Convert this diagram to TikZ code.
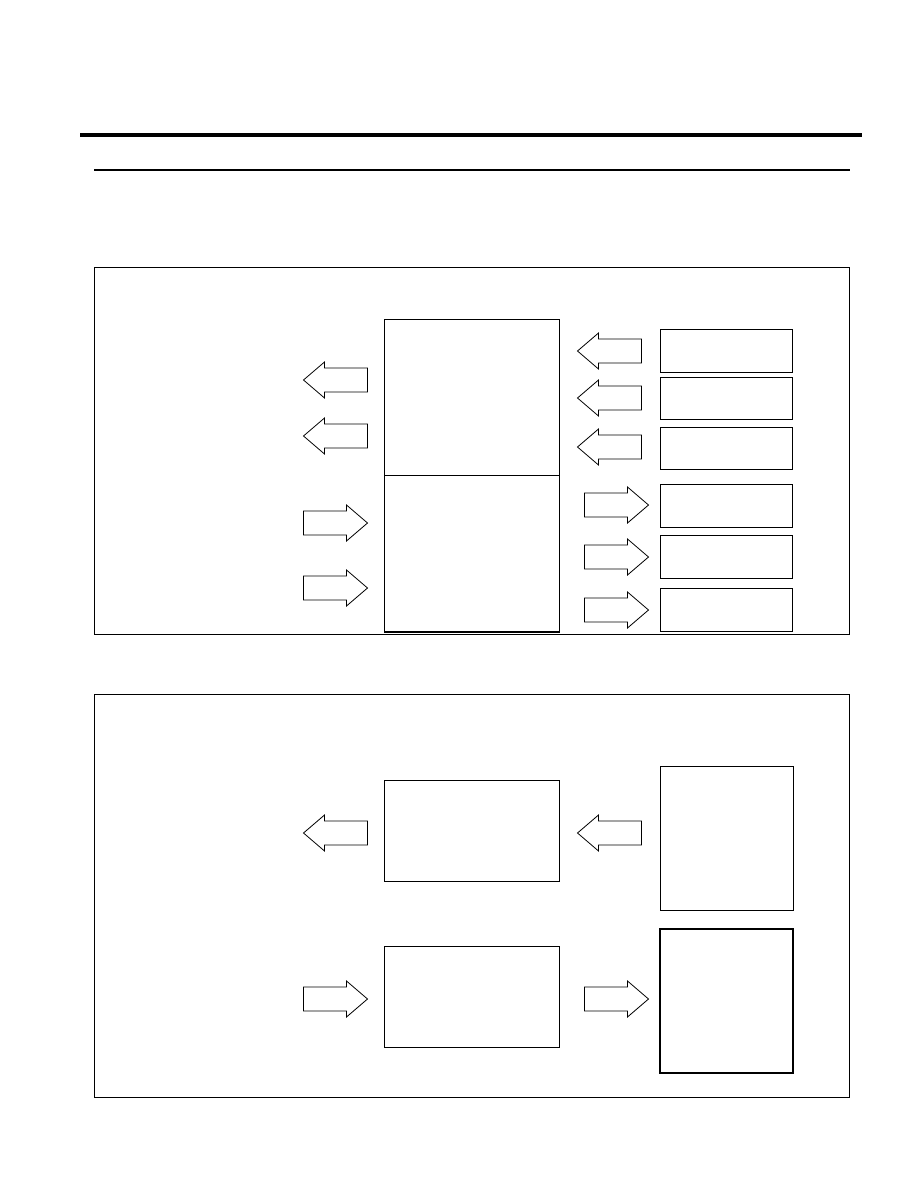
\documentclass[tikz,border=0pt]{standalone}
\usepackage{tikz}

\tikzset{
  boxline/.style={line width=0.9pt},
  frameline/.style={line width=0.7pt},
  pics/blockarrow/.style={code={
    \draw[line width=0.8pt,line join=miter] (-32,-12) -- (11,-12) -- (11,-18) -- (32,0)
      -- (11,18) -- (11,12) -- (-32,12) -- cycle;
  }}
}

\begin{document}
\begin{tikzpicture}[x=1pt,y=-1pt]
\useasboundingbox (0,0) rectangle (918,1188);
% rules at the top
\draw[line width=3.2pt] (80,135) -- (862,135);
\draw[line width=2.4pt] (94,170) -- (850,170);
% upper frame
\draw[frameline] (94,267) rectangle (849,634);
\draw[boxline] (384,319) rectangle (559,632);
\draw[boxline] (384,475) -- (559,475);
\draw[line width=1.6pt] (384,632) -- (559,632);
\draw[boxline] (660,329) rectangle (792,372);
\draw[boxline] (660,377) rectangle (792,419);
\draw[boxline] (660,427) rectangle (792,469);
\draw[boxline] (660,484) rectangle (792,527);
\draw[boxline] (660,535) rectangle (792,578);
\draw[boxline] (660,588) rectangle (792,631);
\pic[rotate=180] at (335.5,380) {blockarrow};
\pic[rotate=180] at (335.5,436) {blockarrow};
\pic at (335.5,523) {blockarrow};
\pic at (335.5,588) {blockarrow};
\pic[rotate=180] at (609.5,351) {blockarrow};
\pic[rotate=180] at (609.5,398) {blockarrow};
\pic[rotate=180] at (609.5,447) {blockarrow};
\pic at (616.5,505) {blockarrow};
\pic at (616.5,557) {blockarrow};
\pic at (616.5,610) {blockarrow};
% lower frame
\draw[frameline] (94,694) rectangle (849,1097);
\draw[boxline] (384,780) rectangle (559,881);
\draw[boxline] (384,946) rectangle (559,1047);
\draw[boxline] (660,766) rectangle (793,910);
\draw[line width=1.4pt] (660,929) rectangle (793,1073);
\pic[rotate=180] at (335.5,833) {blockarrow};
\pic[rotate=180] at (609.5,833) {blockarrow};
\pic at (335.5,999) {blockarrow};
\pic at (616.5,999) {blockarrow};
\end{tikzpicture}
\end{document}
